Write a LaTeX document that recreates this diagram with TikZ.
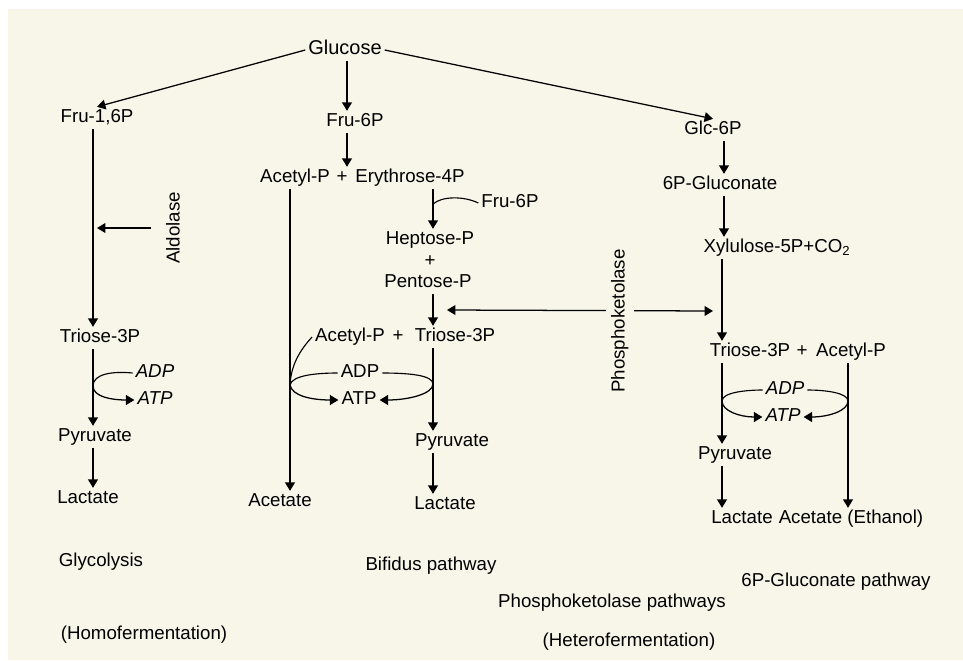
\documentclass[tikz,border=0pt]{standalone}
\usepackage{fontspec}
\setmainfont{Liberation Sans}
\usepackage{tikz}
\usetikzlibrary{positioning}
\usepgflibrary{arrows.meta}
\definecolor{paper}{RGB}{248,246,233}

\begin{document}
\begin{tikzpicture}[x=0.025cm,y=-0.025cm,
    every node/.style={font=\fontsize{13.3}{15}\selectfont,inner sep=2pt,
      text height=9pt,text depth=2.5pt},
    it/.style={font=\fontsize{13.3}{15}\selectfont\itshape},
    ln/.style={line width=0.8pt},
    arr/.style={line width=0.9pt,-{Triangle[width=7pt,length=6pt]}},
    twoarr/.style={line width=0.9pt,{Triangle[width=7pt,length=6pt]}-{Triangle[width=7pt,length=6pt]}}]

      \useasboundingbox (0,0) rectangle (963,660);
      \fill[white] (0,0) rectangle (963,660);
      \fill[paper] (8,9) rectangle (963,660);

      % columns
      \coordinate (cA) at (93,0);
      \coordinate (cB) at (290,0);
      \coordinate (cF) at (347,0);
      \coordinate (cC) at (433,0);
      \coordinate (cG) at (724,0);
      \coordinate (cD) at (722,0);
      \coordinate (cE) at (848,0);

      \node[font=\fontsize{14.2}{16}\selectfont] (glu) at (345,50) {Glucose};

      % glycolysis
      \node (f16) at (97,118) {Fru-1,6P};
      \node[rotate=90] (ald) at (175,228) {Aldolase};
      \coordinate (aldj) at (97,228);
      \node (tri1) at (100,338) {Triose-3P};
      \node[it] (adp1) at (155,373) {ADP};
      \node[it] (atp1) at (155,400) {ATP};
      \coordinate (j1) at (93,386);
      \node (pyr1) at (95,437) {Pyruvate};
      \node (lac1) at (88,499) {Lactate};
      \node (gly) at (101,562) {Glycolysis};
      \node (homo) at (144,635) {(Homofermentation)};

      % bifidus
      \node (f6) at (355,122) {Fru-6P};
      \node (acp1) at (295,178) {Acetyl-P};
      \node (plus1) at (342,178) {+};
      \node (ery) at (410,178) {Erythrose-4P};
      \node (f6b) at (510,203) {Fru-6P};
      \coordinate (fj) at (433,204);
      \node (hep) at (430,240) {Heptose-P};
      \node (plus2) at (430,262) {+};
      \node (pen) at (428,283) {Pentose-P};
      \node (acp2) at (350,337) {Acetyl-P};
      \node (plus3) at (398,337) {+};
      \node (tri2) at (455,337) {Triose-3P};
      \node (adp2) at (360,373) {ADP};
      \node (atp2) at (359,400) {ATP};
      \coordinate (j2l) at (290,385);
      \coordinate (j2r) at (433,384);
      \node (pyr2) at (452,442) {Pyruvate};
      \node (ace2) at (280,502) {Acetate};
      \node (lac2) at (445,505) {Lactate};
      \node (bif) at (431,566) {Bifidus pathway};

      % 6P-gluconate
      \node (g6) at (713,130) {Glc-6P};
      \node (pg) at (720,185) {6P-Gluconate};
      \node (xyl) at (777,248) {Xylulose-5P+CO\textsubscript{2}};
      \node (tri3) at (750,352) {Triose-3P};
      \node (plus4) at (802,352) {+};
      \node (acp3) at (851,352) {Acetyl-P};
      \node[it] (adp3) at (785,390) {ADP};
      \node[it] (atp3) at (783,417) {ATP};
      \coordinate (j3l) at (722,401);
      \coordinate (j3r) at (848,401);
      \node (pyr3) at (735,455) {Pyruvate};
      \node (lac3) at (742,519) {Lactate};
      \node (ace3) at (851,519) {Acetate (Ethanol)};
      \node (gcp) at (836,582) {6P-Gluconate pathway};
      \node (pkp) at (612,603) {Phosphoketolase pathways};
      \node (het) at (629,642) {(Heterofermentation)};

      % glucose
      \draw[arr] (glu.west) -- (f16.north);
      \draw[arr] (glu.south -| cF) -- (f6.north -| cF);
      \draw[arr] (glu.east) -- (g6.north);

      \draw[arr] (f16.south -| cA) -- (tri1.north -| cA);
      \draw[arr,shorten <=9pt] (ald) -- (aldj);
      \draw[arr] (tri1.south -| cA) -- (pyr1.north -| cA);
      \draw[ln] (adp1.west) .. controls (112,371) and (93,374) .. (j1);
      \draw[arr] (j1) .. controls (93,397) and (112,400) .. (atp1.west);
      \draw[arr] (pyr1.south -| cA) -- (lac1.north -| cA);

      \draw[arr] (f6.south -| cF) -- (plus1.north -| cF);
      \draw[arr] (acp1.south -| cB) -- (ace2.north -| cB);
      \draw[arr] (ery.south -| cC) -- (hep.north -| cC);
      \draw[ln] (f6b.west) .. controls (464,196) and (442,196) .. (fj);
      \draw[arr] (pen.south -| cC) -- (tri2.north -| cC);
      \draw[ln] (acp2.west) .. controls (300,350) and (291,365) .. (j2l);
      \draw[ln] (j2l) .. controls (292,375) and (318,373) .. (adp2.west);
      \draw[ln] (adp2.east) .. controls (408,373) and (433,375) .. (j2r);
      \draw[arr] (j2l) .. controls (292,396) and (312,400) .. (atp2.west);
      \draw[arr] (j2r) .. controls (433,394) and (408,400) .. (atp2.east);
      \draw[arr] (tri2.south -| cC) -- (pyr2.north -| cC);
      \draw[arr] (pyr2.south -| cC) -- (lac2.north -| cC);

      \draw[arr] (g6.south -| cG) -- (pg.north -| cG);
      \draw[arr] (pg.south -| cG) -- (xyl.north -| cG);
      \draw[arr] (xyl.south -| cD) -- (tri3.north -| cD);
      \draw[ln] (j3l) .. controls (722,392) and (748,390) .. (adp3.west);
      \draw[ln] (adp3.east) .. controls (826,390) and (848,393) .. (j3r);
      \draw[arr] (j3l) .. controls (722,411) and (740,417) .. (atp3.west);
      \draw[arr] (j3r) .. controls (848,411) and (828,417) .. (atp3.east);
      \draw[arr] (tri3.south -| cD) -- (pyr3.north -| cD);
      \draw[arr] (pyr3.south -| cD) -- (lac3.north -| cD);
      \draw[arr] (acp3.south -| cE) -- (ace3.north -| cE);

      % phosphoketolase
      \coordinate (pkl) at (447,310);
      \coordinate (pkr) at (713,311);
      \draw[twoarr] (pkl) -- (pkr);
      \node[rotate=90,fill=paper,inner xsep=0pt,inner ysep=4pt] (pk) at (620,321) {Phosphoketolase};
    \end{tikzpicture}
\end{document}
